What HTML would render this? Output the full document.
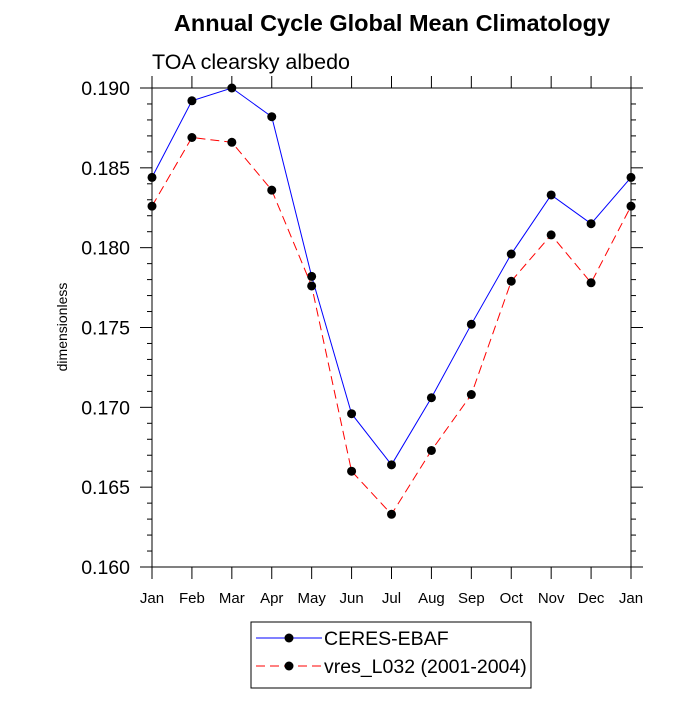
<!DOCTYPE html>
<html><head><meta charset="utf-8"><style>body{margin:0;background:#fff}</style></head>
<body>
<svg id="c" width="700" height="700" xmlns="http://www.w3.org/2000/svg" font-family="Liberation Sans, sans-serif"></svg>
<script>
const months=["Jan","Feb","Mar","Apr","May","Jun","Jul","Aug","Sep","Oct","Nov","Dec","Jan"];
const ceres=[0.1844,0.1892,0.1900,0.1882,0.1782,0.1696,0.1664,0.1706,0.1752,0.1796,0.1833,0.1815,0.1844];
const vres=[0.1826,0.1869,0.1866,0.1836,0.1776,0.1660,0.1633,0.1673,0.1708,0.1779,0.1808,0.1778,0.1826];
const yTicks=[0.160,0.165,0.170,0.175,0.180,0.185,0.190];
const L=152,R=631,T=88,B=567,ymin=0.160,ymax=0.190;
const sx=i=>L+(R-L)*i/(months.length-1);
const sy=v=>B-(v-ymin)/(ymax-ymin)*(B-T);
const svg=document.getElementById('c');const NS="http://www.w3.org/2000/svg";
function el(t,a,p){const e=document.createElementNS(NS,t);for(const k in a)e.setAttribute(k,a[k]);(p||svg).appendChild(e);return e;}
let e;
e=el('text',{x:392,y:31,'text-anchor':'middle','font-size':23.5,'font-weight':'bold'});e.textContent='Annual Cycle Global Mean Climatology';

e=el('text',{x:152,y:69,'font-size':21.5});e.textContent='TOA clearsky albedo';

e=el('text',{x:0,y:0,'font-size':14,'text-anchor':'middle',transform:'translate(67,327) rotate(-90)'});e.textContent='dimensionless';

e=el('rect',{x:L,y:T,width:R-L,height:B-T,fill:'none',stroke:'#000','stroke-width':1});

for(let v=0.160;v<=0.1901;v+=0.001){const y=sy(v);const maj=Math.abs(Math.round(v*1000)%5)==0;const len=maj?12:5;
el('line',{x1:L-len,y1:y,x2:L,y2:y,stroke:'#000'});el('line',{x1:R,y1:y,x2:R+len,y2:y,stroke:'#000'});}
yTicks.forEach(v=>{e=el('text',{x:130,y:sy(v)+7,'text-anchor':'end','font-size':19.5});e.textContent=v.toFixed(3);
});
months.forEach((m,i)=>{const x=sx(i);el('line',{x1:x,y1:B,x2:x,y2:B+12,stroke:'#000'});el('line',{x1:x,y1:T-12,x2:x,y2:T,stroke:'#000'});
e=el('text',{x:x,y:B+36,'text-anchor':'middle','font-size':15});e.textContent=m;
});
function series(d,col,dash,name){e=el('polyline',{points:d.map((v,i)=>sx(i)+','+sy(v)).join(' '),fill:'none',stroke:col,'stroke-width':1,'stroke-dasharray':dash});

d.forEach((v,i)=>{e=el('circle',{cx:sx(i),cy:sy(v),r:4.5,fill:'#000'});});}
series(ceres,'#00f','none','ceres');
series(vres,'#f00','9,5','vres');
const g=el('g',{});
el('rect',{x:251,y:622,width:280,height:66,fill:'#fff',stroke:'#000'},g);
el('line',{x1:256,y1:638,x2:322,y2:638,stroke:'#00f'},g);el('circle',{cx:289,cy:638,r:4.5},g);
e=el('text',{x:324,y:645,'font-size':19.5},g);e.textContent='CERES-EBAF';

el('line',{x1:256,y1:666,x2:322,y2:666,stroke:'#f00','stroke-dasharray':'9,5'},g);el('circle',{cx:289,cy:666,r:4.5},g);
e=el('text',{x:324,y:673,'font-size':19.5},g);e.textContent='vres_L032 (2001-2004)';

</script>
</body></html>
